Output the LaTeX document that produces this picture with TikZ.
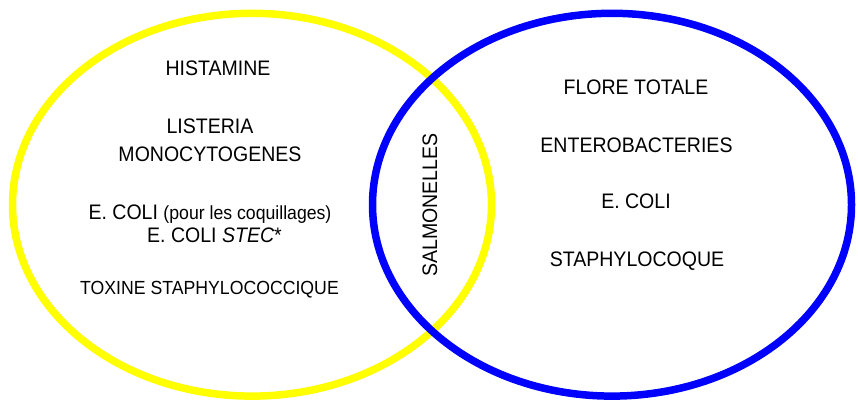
\documentclass[tikz,border=0pt]{standalone}
\usepackage{fontspec}
\setmainfont[FakeStretch=0.93]{Liberation Sans}
\definecolor{ringyellow}{RGB}{255,255,0}
\definecolor{ringblue}{RGB}{0,0,255}
\tikzset{
  ring/.style={line width=7.5pt},
  label/.style={inner sep=0pt, anchor=base, font=\fontsize{21}{25}\selectfont},
  smalllabel/.style={inner sep=0pt, anchor=base, font=\fontsize{19}{23}\selectfont},
}
\begin{document}
\begin{tikzpicture}[x=1pt, y=-1pt]
\useasboundingbox (0,0) rectangle (858,405);
\draw[ring, draw=ringyellow] (252,204.7) ellipse [x radius=239.5pt, y radius=191.4pt];
\draw[ring, draw=ringblue] (612,204.7) ellipse [x radius=239.5pt, y radius=191.4pt];
% left set
\node[label] (histamine) at (218,75.7) {HISTAMINE};
\node[label] (listeria) at (210,133.3) {LISTERIA};
\node[label] (monocyto) at (210,161.7) {MONOCYTOGENES};
\node[label] (ecolicoq) at (210,219) {E. COLI {\fontsize{19}{23}\selectfont(pour les coquillages)}};
\node[label] (ecolistec) at (214.5,242.5) {E. COLI \textit{STEC}*};
\node[smalllabel] (toxine) at (209.5,294) {TOXINE STAPHYLOCOCCIQUE};
% intersection
\node[inner sep=0pt, rotate=90, font=\fontsize{21}{25}\selectfont] (salmo) at (430,205) {SALMONELLES};
% right set
\node[label] (flore) at (636,94) {FLORE TOTALE};
\node[label] (entero) at (636.5,152) {ENTEROBACTERIES};
\node[label] (ecoli) at (636,208) {E. COLI};
\node[label] (staph) at (637,266) {STAPHYLOCOQUE};
\end{tikzpicture}
\end{document}
